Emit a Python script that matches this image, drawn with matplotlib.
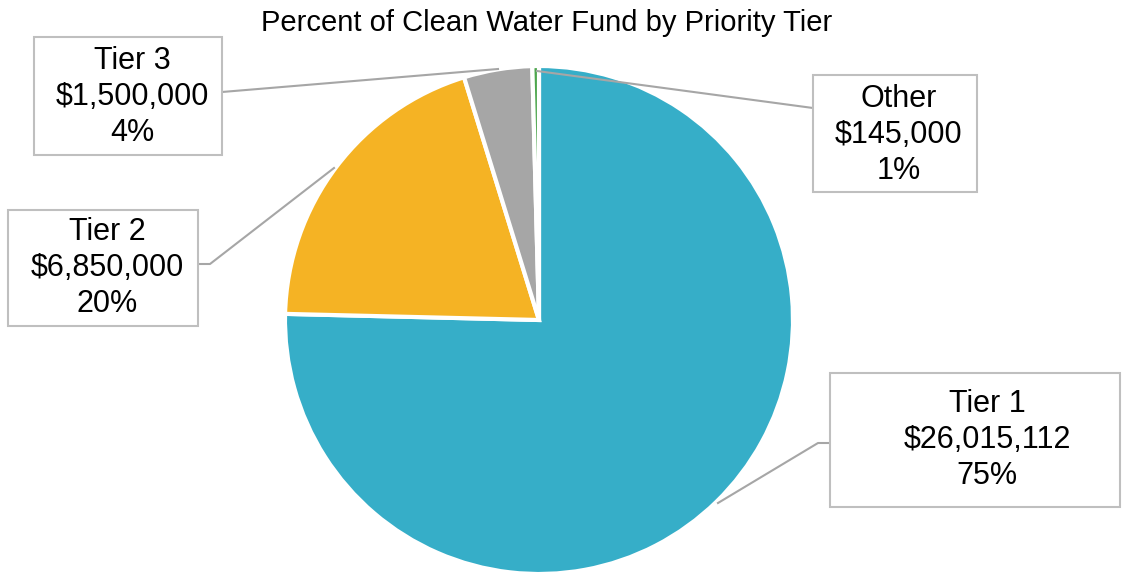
import matplotlib.pyplot as plt
from matplotlib.patches import Rectangle

plt.rcParams['font.family'] = ['Liberation Sans', 'DejaVu Sans']

tiers = ['Tier 1', 'Tier 2', 'Tier 3', 'Other']
amounts = [26015112, 6850000, 1500000, 145000]
pct_labels = ['75%', '20%', '4%', '1%']
colors = ['#36AEC8', '#F5B324', '#A6A6A6', '#4EA64E']

W, H = 1130, 574
fig = plt.figure(figsize=(W / 100, H / 100), dpi=100)
ax = fig.add_axes([0, 0, 1, 1])

# pie laid out in pixel space (y measured from the bottom)
ax.pie(amounts, colors=colors, startangle=90, counterclock=False,
       center=(539, H - 320), radius=254,
       wedgeprops=dict(edgecolor='white', linewidth=3))
ax.set_xlim(0, W)
ax.set_ylim(0, H)
ax.set_aspect('equal')
ax.axis('off')

ax.text(547, H - 23, 'Percent of Clean Water Fund by Priority Tier',
        ha='center', va='center', fontsize=21)

# callout boxes: (x0, y_top, x1, y_bottom) in pixels
boxes = {
    'Tier 1': (830, 373, 1120, 507),
    'Tier 2': (8, 210, 198, 326),
    'Tier 3': (34, 37, 222, 155),
    'Other': (813, 75, 977, 192),
}
# where each label's text block is centred
text_pos = {
    'Tier 1': (987, 440),
    'Tier 2': (107, 268),
    'Tier 3': (132, 97),
    'Other': (899, 135),
}
# leader lines as pixel polylines
leaders = {
    'Tier 1': [(830, 443), (818, 443), (718, 503)],
    'Tier 2': [(198, 264), (210, 264), (334, 168)],
    'Tier 3': [(222, 92), (498, 69)],
    'Other': [(813, 108), (537, 71)],
}

for name, amt, pct in zip(tiers, amounts, pct_labels):
    x0, y0, x1, y1 = boxes[name]
    ax.add_patch(Rectangle((x0, H - y1), x1 - x0, y1 - y0, fill=True,
                           facecolor='white', edgecolor='#BFBFBF',
                           linewidth=1.5, zorder=3))
    pts = leaders[name]
    ax.plot([p[0] for p in pts], [H - p[1] for p in pts],
            color='#A6A6A6', linewidth=1.5, zorder=2)
    tx, ty = text_pos[name]
    ax.text(tx, H - ty, f'{name}\n${amt:,}\n{pct}', ha='center', va='center',
            fontsize=22, linespacing=1.25, zorder=4)

fig.savefig('out.png', dpi=100)
